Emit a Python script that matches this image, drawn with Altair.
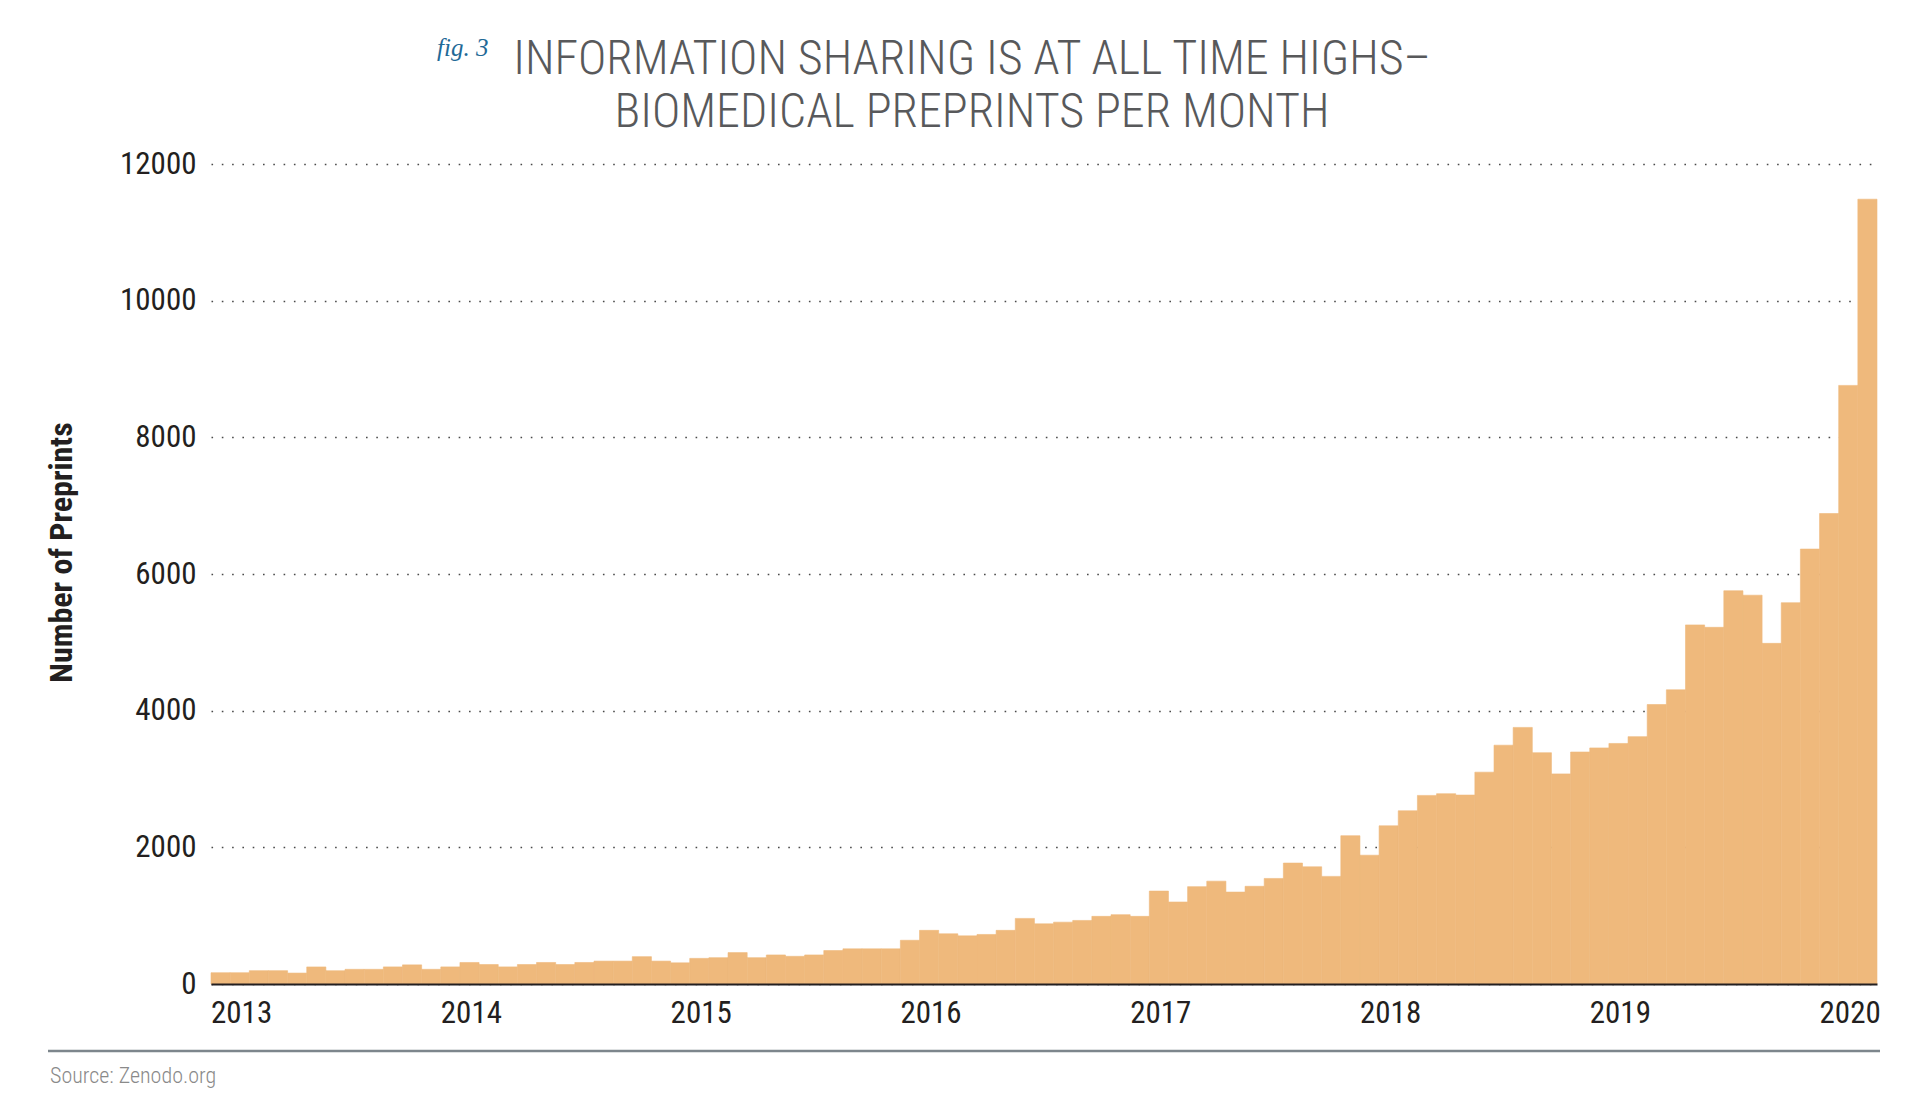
import altair as alt
import pandas as pd

# ---- data ----
years = [2013, 2014, 2015, 2016, 2017, 2018, 2019, 2020]
v2013 = [165, 165, 195, 195, 160, 250, 195, 215, 215, 250, 280, 215]
v2014 = [250, 315, 285, 250, 285, 315, 285, 315, 335, 335, 400, 335]
v2015 = [310, 375, 385, 460, 385, 425, 405, 425, 490, 515, 515, 515]
v2016 = [640, 785, 735, 705, 725, 785, 960, 880, 905, 930, 990, 1015]
v2017 = [990, 1360, 1200, 1425, 1505, 1345, 1430, 1545, 1770, 1715, 1575, 2170]
v2018 = [1885, 2315, 2535, 2760, 2785, 2765, 3100, 3495, 3755, 3385, 3075, 3395]
v2019 = [3455, 3520, 3620, 4090, 4305, 5255, 5220, 5755, 5690, 4985, 5580, 6365]
v2020 = [6885, 8760, 11485]
series = [v2013, v2014, v2015, v2016, v2017, v2018, v2019, v2020]

y_ticks = [0, 2000, 4000, 6000, 8000, 10000, 12000]
title_lines = ["INFORMATION SHARING IS AT ALL TIME HIGHS\u2013", "BIOMEDICAL PREPRINTS PER MONTH"]
fig_label = "fig. 3"
y_title = "Number of Preprints"
source_text = "Source: Zenodo.org"

months, counts = [], []
for yr, vals in zip(years, series):
    for i, v in enumerate(vals):
        months.append(f"{yr}-{i + 1:02d}")
        counts.append(v)
jan_months = [f"{yr}-01" for yr in years]

df = pd.DataFrame({"month": months, "count": counts})

NARROW = "Roboto Condensed, Open Sans Condensed, Liberation Sans Narrow, DejaVu Sans Condensed, sans-serif"
INK = "#231f20"
BAR = "#EFB97C"

W, H = 1666, 820
BAND = W / len(months)

bars = alt.Chart(df).mark_bar(color=BAR, stroke=BAR, strokeWidth=0.6).encode(
    x=alt.X(
        "month:O",
        sort=None,
        scale=alt.Scale(paddingInner=0, paddingOuter=0),
        axis=alt.Axis(
            values=jan_months,
            labelExpr="substring(datum.value, 0, 4)",
            labelAlign="left",
            labelOffset=-BAND / 2,
            labelAngle=0,
            labelOverlap=False,
            ticks=False,
            domainColor=INK,
            domainWidth=2.2,
            labelFont=NARROW,
            labelFontSize=31,
            labelColor=INK,
            labelPadding=14,
            title=None,
            zindex=1,
        ),
    ),
    y=alt.Y(
        "count:Q",
        scale=alt.Scale(domain=[0, 12000], nice=False),
        axis=alt.Axis(
            values=y_ticks,
            format="d",
            grid=True,
            gridDash=[1.6, 8.7],
            gridColor="#4a4a4a",
            gridWidth=1.6,
            domain=False,
            ticks=False,
            labelFont=NARROW,
            labelFontSize=31,
            labelColor=INK,
            labelPadding=15,
            title=y_title,
            titleFont=NARROW,
            titleFontSize=32,
            titleFontWeight="bold",
            titleColor=INK,
            titleAngle=270,
            titleX=-150,
            titleY=388,
            titleAlign="center",
            titleBaseline="middle",
        ),
    ),
)

fig = alt.Chart(pd.DataFrame({"t": [fig_label]})).mark_text(
    font="Liberation Serif, DejaVu Serif, serif", fontStyle="italic", fontSize=25,
    color="#1f6a97", align="left", baseline="alphabetic"
).encode(text="t:N", x=alt.value(226), y=alt.value(-108))

title_txt = alt.Chart(pd.DataFrame({"t": ["\n".join(title_lines)]})).mark_text(
    font=NARROW, fontSize=48, fontWeight=300, color="#58595b", align="center",
    baseline="top", lineBreak="\n", lineHeight=53
).encode(text="t:N", x=alt.value(761), y=alt.value(-128))

sep = alt.Chart(pd.DataFrame({"t": [0]})).mark_rule(color="#7d868c", strokeWidth=2.5).encode(
    x=alt.value(-163), x2=alt.value(1669), y=alt.value(887)
)

src = alt.Chart(pd.DataFrame({"t": [source_text]})).mark_text(
    font=NARROW, fontSize=22, fontWeight=300, color="#8a8a8a", align="left", baseline="alphabetic"
).encode(text="t:N", x=alt.value(-161), y=alt.value(919))

chart = alt.layer(bars, fig, title_txt, sep, src).properties(
    width=W,
    height=H,
    autosize=alt.AutoSizeParams(type="none"),
    padding={"left": 203, "top": 156, "right": 35, "bottom": 110},
    background="white",
).configure_view(stroke=None)

chart.save("out.html", embed_options={"renderer": "svg", "actions": False})
